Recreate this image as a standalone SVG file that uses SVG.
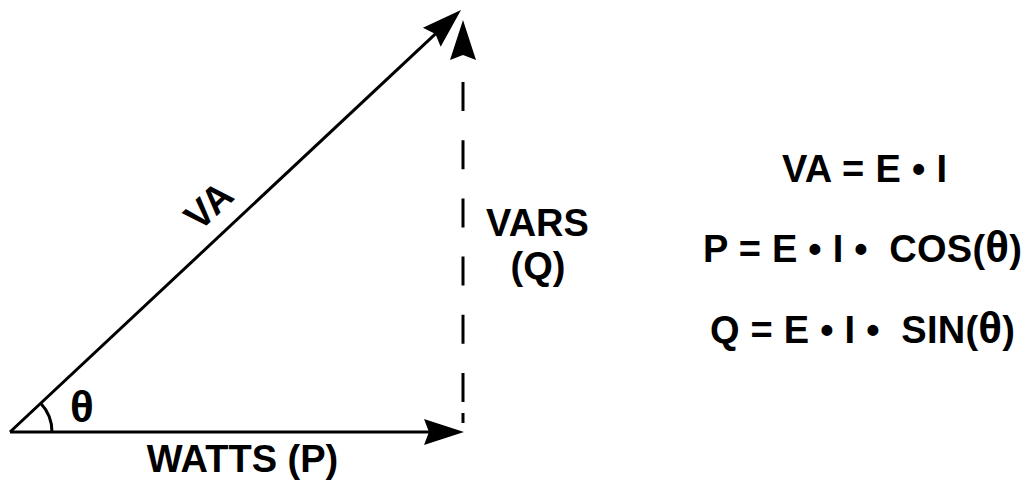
<svg xmlns="http://www.w3.org/2000/svg" xmlns:xlink="http://www.w3.org/1999/xlink" width="1027" height="482" viewBox="0 0 1027 482">
<style>
.ln{stroke:#000;stroke-width:3;fill:none}
.ah{fill:#000;stroke:none}
.t{font-family:"Liberation Sans",Arial,Helvetica,sans-serif;font-weight:bold;font-size:38px;fill:#000}
.th{font-size:44px}
</style>
<defs>
<path id="ah" class="ah" d="M0,0 L-40,-13 L-35,0 L-40,13 Z"/>
</defs>
<rect width="1027" height="482" fill="#fff"/>
<g id="connectors">
<line class="ln" x1="10" y1="432" x2="432" y2="432"/>
<use xlink:href="#ah" transform="translate(464,432)"/>
<line class="ln" x1="10" y1="432" x2="436.5" y2="32.9"/>
<use xlink:href="#ah" transform="translate(461,10) rotate(-43.1)"/>
<path class="ln" d="M463,82 L463,423" stroke-dasharray="29 29.2 29 29.2 29 29.2 29 29.2 29 29.2 29 11 10 100"/>
<use xlink:href="#ah" transform="translate(463,20) rotate(-90)"/>
<path class="ln" d="M52,432 A42,42 0 0 0 40.7,403.3"/>
</g>
<g id="va-label"><text class="t" text-anchor="middle" transform="translate(217.6,215.2) rotate(-43.1)">VA</text></g>
<g id="theta-label"><text class="t th" x="70" y="422">θ</text></g>
<g id="watts-label"><text class="t" x="242.5" y="472" text-anchor="middle">WATTS (P)</text></g>
<g id="vars-label"><text class="t" text-anchor="middle" x="537.5" y="236">VARS</text><text class="t" text-anchor="middle" x="538" y="279">(Q)</text></g>
<g id="equations">
<text class="t" x="782" y="182" textLength="165" lengthAdjust="spacing">VA = E • I</text>
<text class="t" x="703" y="262" textLength="319" lengthAdjust="spacing" xml:space="preserve">P = E • I •  COS(<tspan class="th">θ</tspan>)</text>
<text class="t" x="710" y="343" textLength="305" lengthAdjust="spacing" xml:space="preserve">Q = E • I •  SIN(<tspan class="th">θ</tspan>)</text>
</g>
</svg>
